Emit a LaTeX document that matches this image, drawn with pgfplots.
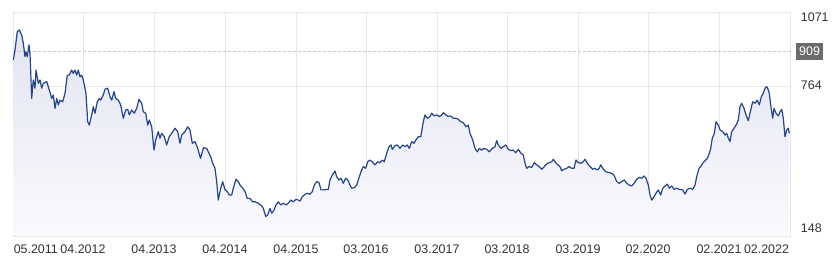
\documentclass[border=0pt]{standalone}
\usepackage{fontspec}
\setmainfont{Liberation Sans}
\usepackage{pgfplots}
\pgfplotsset{compat=1.18}
\usepackage{pgfplotstable}
\definecolor{linec}{HTML}{264487}
\definecolor{filltop}{HTML}{E2E4F1}
\definecolor{fillbot}{HTML}{FAFAFD}
\definecolor{gridc}{HTML}{E6E6E6}
\definecolor{dashc}{HTML}{C8C8C8}
\definecolor{labc}{HTML}{333333}
\definecolor{boxc}{HTML}{6B6B6B}
\pgfplotstableread{
x y
13.3 873
15 914
17.3 990
19.3 997
21.7 976
23.3 942
25 887
26 907
27.3 887
29 935
30 901
31.7 715
33.3 791
35 757
36 832
38.3 777
40 791
41.7 757
43.3 777
46.7 784
49.3 750
51.7 715
53.3 729
55 674
56.7 715
58.3 688
60 708
62.7 701
65 736
67.3 811
69.3 811
71.7 832
73.3 818
75 832
76.7 811
78.3 832
80 804
81.7 811
83.3 791
86 736
87.7 619
89.3 605
91.7 647
93.3 681
95 654
97.3 701
99.3 715
100.7 708
103.3 729
105 753
107.7 757
110 722
111.7 708
114 743
115.7 715
118.3 708
120.7 688
123.3 633
125.7 667
127.7 670
129.3 647
131.7 667
134.3 654
136.7 674
139 711
141.7 695
143.3 660
145.7 654
147.7 605
149.3 626
151.7 598
154 502
155.7 544
158.3 578
160 551
161.7 571
164.3 557
166.7 523
169 555
171.7 571
175 592
177.7 578
180 530
181.7 564
185 578
187.7 598
190 585
192.3 530
195 537
197.7 509
200.5 468
203.5 512
206.7 509
208.3 495
210.7 475
212.7 448
215 427
216.7 372
218.3 296
220.7 345
222.7 372
225 338
227.3 331
229.3 317
231.7 317
233.3 345
236 382
238.3 372
240 358
242.7 345
245 331
247.3 303
250 303
252.7 289
255 289
258.3 283
261.7 272
263.3 262
265.7 228
267.7 235
270 262
271.7 242
274 255
276 276
278.3 289
280.7 276
283.3 283
286 276
288.3 283
290.7 296
293.3 289
296 299
298.3 296
300 292
302.3 310
305 320
307.7 324
310 320
312.3 331
314.3 358
316.7 372
319 368
321 338
323.3 338
326.7 340
328.3 340
330 379
332.3 399
335 416
336.7 392
339 379
341 386
343.3 365
345.7 386
347.7 379
350 358
351.7 345
354.3 347
356.7 358
358.3 379
361 413
363.3 434
365.7 427
367.7 454
370 461
372.3 454
375 441
377.7 454
380 450
382.3 461
384.3 454
386.7 489
389 516
391 523
392.3 505
395 520
397.3 523
400 509
402.7 523
405 516
407.3 523
409.3 509
411.7 537
414 530
416 544
418.3 557
420.7 557
423.3 619
425 647
427.3 633
430 640
431.7 654
434 643
436.7 647
439.3 640
441.7 647
443.3 656
446 647
448.3 640
450.7 643
453.3 633
456 633
458.3 629
460.7 619
463.3 615
466 598
468.3 605
470 571
472.7 544
475 509
477.3 495
479.3 509
481.7 502
484 509
486.7 505
489.3 495
492.3 509
495 516
496.7 541
498.3 523
501 509
503.3 516
505.7 523
508.3 505
511 500
513.3 502
515.7 491
518.3 505
521 489
523.3 482
525 448
526.7 427
529 434
531.7 431
534.3 450
536.7 441
539 434
541.7 423
544.3 434
546.7 445
549 450
551.7 454
553.3 464
555.7 450
557.7 441
560 434
561.7 417
564.3 423
566.7 427
569 434
571.7 427
574 427
576 461
578.3 450
581 448
583.3 454
585 464
587.3 448
590 434
592.7 423
595 427
597.3 420
599.3 427
600.7 441
603.3 423
606 413
609.3 409
611.7 406
614 399
616.7 372
619.3 365
621.7 372
624.3 379
626.7 365
629.3 358
631.7 354
634 365
636.7 382
639.3 390
641.7 386
644 395
646 386
648.3 358
650 317
651.7 296
654 310
656 324
658.3 338
660.7 317
662.7 345
665 354
667.3 362
669.3 345
671.7 354
674 340
676.7 345
679.3 340
682.7 338
685 321
687.3 340
690 345
692.7 340
695 358
696.7 392
699 427
700.7 434
702.7 448
705 458
707.3 468
709.3 489
710.7 509
712.3 551
714.3 571
716 619
718.3 605
720 585
722.7 578
725 564
726.7 571
728.3 551
730 537
731.7 578
734 592
736.7 610
738.3 626
740 681
741.7 695
744 674
746 647
748.3 623
750.7 667
752.7 701
755 695
757.3 708
759.3 688
761.3 722
763.3 736
765 757
766.7 763
768.3 750
769.3 736
770.7 688
772.7 633
774 674
776 654
778.3 643
780 660
781.7 670
783.3 633
785 557
786.7 585
788.3 592
789.3 571
}\pricedata

\begin{document}
\begin{tikzpicture}
\useasboundingbox (-13bp,-30bp) rectangle (825bp,236bp);
\begin{axis}[
  name=ax,
  at={(0,0)}, anchor=south west,
  scale only axis,
  width=777bp, height=224bp,
  xmin=13, xmax=790, ymin=148, ymax=1071,
  axis line style={draw=gridc, line width=0.8bp},
  xtick={83,154,225,296,366,437,507,578,648,719},
  xticklabels={04.2012,04.2013,04.2014,04.2015,03.2016,03.2017,03.2018,03.2019,02.2020,02.2021},
  extra x ticks={35.8,766.5},
  extra x tick labels={05.2011,02.2022},
  extra x tick style={grid=none},
  ytick={148,764,1071},
  yticklabels={},
  yticklabel pos=right,
  grid=major,
  grid style={draw=gridc, line width=0.8bp},
  major tick length=0pt,
  tick style={draw=none},
  tick label style={font=\fontsize{12.5}{14}\selectfont, text=labc},
  xticklabel style={inner sep=0pt, anchor=north, yshift=-9bp},
  clip mode=individual,
]
\addplot[draw=none, top color=filltop, bottom color=fillbot] table[x=x,y=y] {\pricedata} \closedcycle;
\addplot[dashc, line width=0.8bp, dash pattern=on 2.5bp off 2.5bp] coordinates {(13,909) (790,909)};
\addplot[linec, line width=1.2bp, line join=round] table[x=x,y=y] {\pricedata};
\node[anchor=west, inner sep=0pt, font=\fontsize{12.5}{14}\selectfont, text=labc] at ([xshift=10.7bp,yshift=-5.5bp]axis cs:790,1071) {1071};
\node[anchor=west, inner sep=0pt, font=\fontsize{12.5}{14}\selectfont, text=labc] at ([xshift=10.7bp,yshift=1bp]axis cs:790,764) {764};
\node[anchor=west, inner sep=0pt, font=\fontsize{12.5}{14}\selectfont, text=labc] at ([xshift=10.7bp,yshift=7.5bp]axis cs:790,148) {148};
\node[anchor=west, fill=boxc, text=white, inner xsep=3.3bp, inner ysep=0pt, minimum height=17bp, font=\fontsize{12.5}{14}\selectfont] at ([xshift=5.7bp]axis cs:790,909) {909};
\end{axis}
\end{tikzpicture}
\end{document}
